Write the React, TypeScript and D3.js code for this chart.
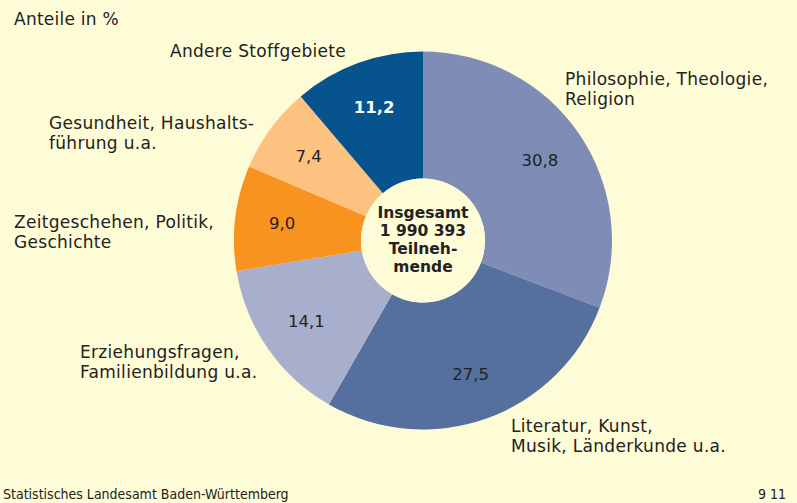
import React from "react";
import * as d3 from "d3";

const categories = [
  "Philosophie, Theologie, Religion",
  "Literatur, Kunst, Musik, Länderkunde u.a.",
  "Erziehungsfragen, Familienbildung u.a.",
  "Zeitgeschehen, Politik, Geschichte",
  "Gesundheit, Haushaltsführung u.a.",
  "Andere Stoffgebiete",
];
const values = [30.8, 27.5, 14.1, 9.0, 7.4, 11.2];
const valueLabels = ["30,8", "27,5", "14,1", "9,0", "7,4", "11,2"];
const colors = ["#7f8cb5", "#55709f", "#a8afcd", "#f7931e", "#fdc27f", "#06538e"];
const valueTextColors = ["#222", "#222", "#222", "#222", "#222", "#fff"];
const categoryLabelLines = [
  ["Philosophie, Theologie,", "Religion"],
  ["Literatur, Kunst,", "Musik, Länderkunde u.a."],
  ["Erziehungsfragen,", "Familienbildung u.a."],
  ["Zeitgeschehen, Politik,", "Geschichte"],
  ["Gesundheit, Haushalts-", "führung u.a."],
  ["Andere Stoffgebiete"],
];
const labelAnchors: [number, number][] = [
  [565, 85],
  [511, 432],
  [80, 358],
  [14, 228],
  [49, 129],
  [170, 57],
];
const centerLines = ["Insgesamt", "1 990 393", "Teilneh-", "mende"];

const W = 797;
const H = 503;
const BG = "#fefbd7";
const FONT = "'DejaVu Sans', sans-serif";
const NARROW = "'Liberation Sans Narrow', 'DejaVu Sans Condensed', sans-serif";

export default function App() {
  const cx = 423;
  const cy = 240.5;
  const outerR = 189;
  const innerR = 62;
  const pie = d3.pie<number>().sort(null).value((d) => d);
  const arcs = pie(values);
  const arc = d3.arc<d3.PieArcDatum<number>>().innerRadius(innerR).outerRadius(outerR);
  const labelR = 142;

  return (
    <svg width={W} height={H} style={{ position: "absolute", left: 0, top: 0, display: "block" }} fontFamily={FONT}>
      <rect width={W} height={H} fill={BG} />
      <text x={14} y={25} fontSize={17} letterSpacing={0.25} fill="#222">Anteile in %</text>
      <g transform={`translate(${cx},${cy})`}>
        {arcs.map((a, i) => (
          <path key={i} d={arc(a) || ""} fill={colors[i]} />
        ))}
        <circle r={innerR} fill={BG} />
        {arcs.map((a, i) => {
          const ang = (a.startAngle + a.endAngle) / 2;
          const x = Math.sin(ang) * labelR;
          const y = -Math.cos(ang) * labelR;
          return (
            <text key={i} x={x} y={y} dy="0.35em" textAnchor="middle" fontSize={16.5}
              fill={valueTextColors[i]} fontWeight={i === 5 ? "bold" : "normal"}>
              {valueLabels[i]}
            </text>
          );
        })}
        {centerLines.map((l, i) => (
          <text key={i} x={0} y={-23 + i * 18.3} textAnchor="middle" fontSize={15.5}
            fontWeight="bold" fill="#222">
            {l}
          </text>
        ))}
      </g>
      {categoryLabelLines.map((lines, i) =>
        lines.map((l, j) => (
          <text key={`${i}-${j}`} x={labelAnchors[i][0]} y={labelAnchors[i][1] + j * 20} fontSize={17}
            letterSpacing={0.3} fill="#222">
            {l}
          </text>
        ))
      )}
      <text x={3} y={499} fontSize={14} fill="#222" fontFamily={NARROW}>
        Statistisches Landesamt Baden-Württemberg
      </text>
      <text x={786} y={499} fontSize={14} textAnchor="end" fill="#222" fontFamily={NARROW}>
        9 11
      </text>
    </svg>
  );
}
